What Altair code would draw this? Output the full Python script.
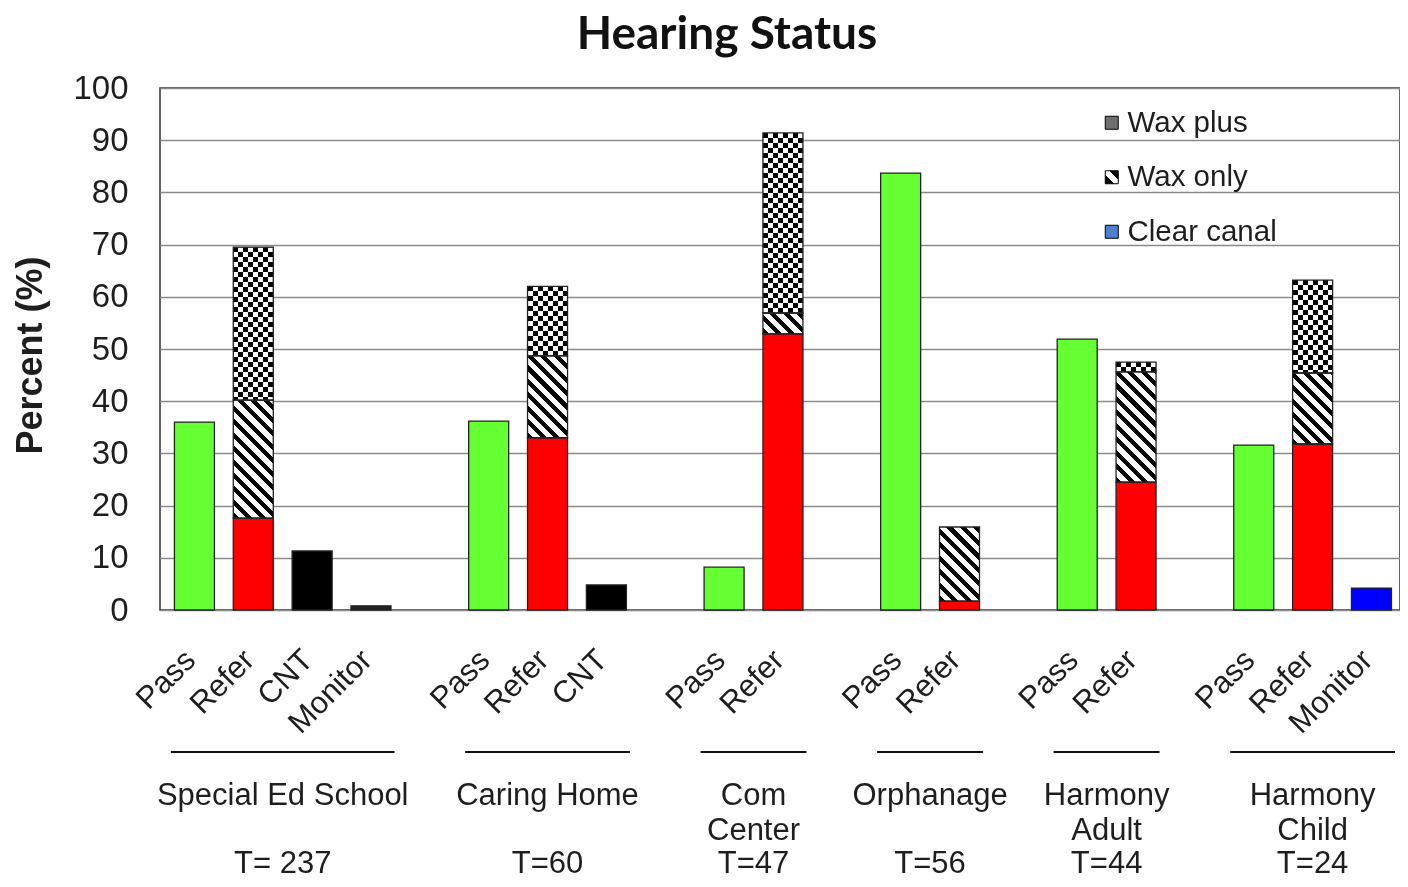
import math
import altair as alt

# ---------------- data ----------------
sites = ["Special Ed School", "Caring Home", "Com\nCenter", "Orphanage", "Harmony\nAdult", "Harmony\nChild"]
totals = ["T= 237", "T=60", "T=47", "T=56", "T=44", "T=24"]
pass_pct = [36.0, 36.2, 8.2, 83.7, 51.9, 31.6]
refer_clear = [17.6, 33.0, 52.9, 1.7, 24.5, 31.8]
refer_wax_only = [22.6, 15.7, 4.0, 14.2, 21.1, 13.6]
refer_wax_plus = [29.3, 13.3, 34.5, 0.0, 1.9, 17.8]
cnt_pct = [11.3, 4.8, None, None, None, None]
monitor_pct = [0.8, None, None, None, None, 4.2]
legend_labels = ["Wax plus", "Wax only", "Clear canal"]

# ---------------- layout / style constants ----------------
PLOT_W, PLOT_H = 1240, 522
BAR_W = 40
X_DOMAIN = [-0.5, 20.4]
STRIPE_PERIOD = 9.5
CHECK_CELL = 5.0
PX_PER_PCT = PLOT_H / 100.0
FONT = "Liberation Sans"
TXT = "#1e1e1e"


def band_stops(n, frac, c_on="#000000", c_off="#ffffff"):
    stops = []
    k = 0
    while k < n:
        a = k / n
        b = min((k + frac) / n, 1.0)
        c = min((k + 1) / n, 1.0)
        stops += [
            {"offset": round(a, 5), "color": c_on},
            {"offset": round(b, 5), "color": c_on},
            {"offset": round(b, 5), "color": c_off},
            {"offset": round(c, 5), "color": c_off},
        ]
        k += 1
    return stops


def diag_pattern(h):
    w = float(BAR_W)
    r = h / w
    t = (1 + r) / (1 + r * r)
    n = (w + h) / math.sqrt(2) / STRIPE_PERIOD
    return {"gradient": "linear", "x1": 0, "y1": 1, "x2": round(t, 5), "y2": round(1 - t * r, 5),
            "stops": band_stops(n, 0.45)}


def hband_pattern(h):
    n = h / (2 * CHECK_CELL)
    return {"gradient": "linear", "x1": 0, "y1": 0, "x2": 0, "y2": 1, "stops": band_stops(n, 0.5)}


def vband_pattern():
    n = BAR_W / (2 * CHECK_CELL)
    return {"gradient": "linear", "x1": 0, "y1": 0, "x2": 1, "y2": 0, "stops": band_stops(n, 0.5)}


# ---------------- build tables ----------------
segs, cats, groups = [], [], []
slot = 0
for i, site in enumerate(sites):
    first = slot
    segs.append(dict(site=i, slot=slot, kind="Pass", y0=0.0, y1=pass_pct[i]))
    cats.append(dict(slot=slot, cat="Pass"))
    slot += 1
    base = 0.0
    for kind, v in (("Clear canal", refer_clear[i]), ("Wax only", refer_wax_only[i]),
                    ("Wax plus", refer_wax_plus[i])):
        if v > 0:
            row = dict(site=i, slot=slot, kind=kind, y0=base, y1=base + v)
            h = v * PX_PER_PCT
            if kind == "Wax only":
                row["pat"] = diag_pattern(h)
            elif kind == "Wax plus":
                row["pat"] = hband_pattern(h)
                row["pat2"] = vband_pattern()
            segs.append(row)
            base += v
    cats.append(dict(slot=slot, cat="Refer"))
    slot += 1
    if cnt_pct[i] is not None:
        segs.append(dict(site=i, slot=slot, kind="CNT", y0=0.0, y1=cnt_pct[i]))
        cats.append(dict(slot=slot, cat="CNT"))
        slot += 1
    if monitor_pct[i] is not None:
        segs.append(dict(site=i, slot=slot, kind="Monitor", y0=0.0, y1=monitor_pct[i]))
        cats.append(dict(slot=slot, cat="Monitor"))
        slot += 1
    last = slot - 1
    groups.append(dict(site=site, total=totals[i], xc=(first + last) / 2.0,
                       xl=first - 0.4, xr=last + 0.4))
    slot += 1

seg_data = alt.Data(values=segs)
x_scale = alt.Scale(domain=X_DOMAIN, nice=False, zero=False)
y_scale = alt.Scale(domain=[0, 100], nice=False)
y_axis = alt.Axis(values=list(range(0, 101, 10)), title="Percent (%)", grid=True, ticks=False,
                  domain=False, labelPadding=32, labelFontSize=33, labelFont=FONT, labelColor=TXT,
                  titleFont=FONT, titleFontSize=36, titleFontWeight="bold", titleColor=TXT,
                  titleAngle=270, titleX=-130, titleY=267, titleAlign="center",
                  titleBaseline="middle", gridColor="#8a8a8a", gridWidth=1.5)

x_enc = alt.X("slot:Q", scale=x_scale, axis=None)
y_enc = alt.Y("y0:Q", scale=y_scale, axis=y_axis)
y2_enc = alt.Y2("y1:Q")

solid_scale = alt.Scale(domain=["Pass", "Clear canal", "CNT", "Monitor"],
                        range=["#66ff33", "#ff0000", "#000000", "#222222"])

bars_solid = alt.Chart(seg_data).mark_bar(size=BAR_W).encode(
    x=x_enc, y=y_enc, y2=y2_enc,
    fill=alt.condition("datum.site === 5 && datum.kind === 'Monitor'",
                       alt.value("#0000ff"),
                       alt.Fill("kind:N", scale=solid_scale, legend=None)),
).transform_filter("indexof(['Pass','Clear canal','CNT','Monitor'], datum.kind) >= 0")

bars_pat = alt.Chart(seg_data).mark_bar(size=BAR_W).encode(
    x=x_enc, y=y_enc, y2=y2_enc,
    fill=alt.Fill("pat:N", scale=None),
).transform_filter("datum.kind === 'Wax only' || datum.kind === 'Wax plus'")

bars_check = alt.Chart(seg_data).mark_bar(size=BAR_W, blend="difference").encode(
    x=x_enc, y=y_enc, y2=y2_enc,
    fill=alt.Fill("pat2:N", scale=None),
).transform_filter("datum.kind === 'Wax plus'")

bars_outline = alt.Chart(seg_data).mark_bar(size=BAR_W, fillOpacity=0, stroke="#222222",
                                            strokeWidth=1.3).encode(
    x=x_enc, y=y_enc, y2=y2_enc,
)

wax_only_symbol = alt.ExprRef(
    "{gradient: 'linear', x1: 0, y1: 1, x2: 1, y2: 0, stops: ["
    "{offset: 0, color: '#000'}, {offset: 0.36, color: '#000'}, {offset: 0.36, color: '#fff'},"
    "{offset: 0.64, color: '#fff'}, {offset: 0.64, color: '#000'}, {offset: 1, color: '#000'}]}"
)

legend_layer = alt.Chart(alt.Data(values=[{"label": l} for l in legend_labels])).mark_square(
    opacity=1).encode(
    color=alt.Color("label:N",
                    scale=alt.Scale(domain=legend_labels,
                                    range=["#6e6e6e", wax_only_symbol, "#4f7fd0"]),
                    legend=alt.Legend(title=None, orient="none", legendX=937, legendY=20,
                                      symbolType="square", symbolSize=169, symbolOpacity=1,
                                      symbolStrokeColor="#000000", symbolStrokeWidth=1,
                                      labelFont=FONT, labelFontSize=29.5, labelColor=TXT,
                                      labelOffset=1, rowPadding=23.5)),
).transform_filter("false")

cat_labels = alt.Chart(alt.Data(values=cats)).mark_text(
    angle=315, align="right", baseline="top", font=FONT, fontSize=31, color=TXT,
    dx=-10, dy=-10).encode(
    x=x_enc, y=alt.value(557), text="cat:N")

group_rules = alt.Chart(alt.Data(values=groups)).mark_rule(color="#111111", strokeWidth=2).encode(
    x=alt.X("xl:Q", scale=x_scale, axis=None), x2="xr:Q", y=alt.value(664))

group_names = alt.Chart(alt.Data(values=groups)).mark_text(
    font=FONT, fontSize=31, color=TXT, baseline="alphabetic", lineBreak="\n", lineHeight=35).encode(
    x=alt.X("xc:Q", scale=x_scale, axis=None), y=alt.value(717), text="site:N")

group_totals = alt.Chart(alt.Data(values=groups)).mark_text(
    font=FONT, fontSize=31, color=TXT, baseline="alphabetic").encode(
    x=alt.X("xc:Q", scale=x_scale, axis=None), y=alt.value(785), text="total:N")

chart = alt.layer(
    bars_solid, bars_pat, bars_check, bars_outline, legend_layer,
    cat_labels, group_rules, group_names, group_totals,
).properties(
    width=PLOT_W, height=PLOT_H,
    title=alt.TitleParams("Hearing Status", font="Lato", fontSize=46, fontWeight="bold",
                          color="#111111", anchor="middle", frame="group", dx=-53,
                          baseline="alphabetic", offset=-23),
    autosize=alt.AutoSizeParams(type="none"),
    padding={"left": 152, "top": 80, "right": 0, "bottom": 269},
    background="white",
).configure_view(stroke="#333333", strokeWidth=1.5)

chart.save("out.html", embed_options={"renderer": "svg", "actions": False})
